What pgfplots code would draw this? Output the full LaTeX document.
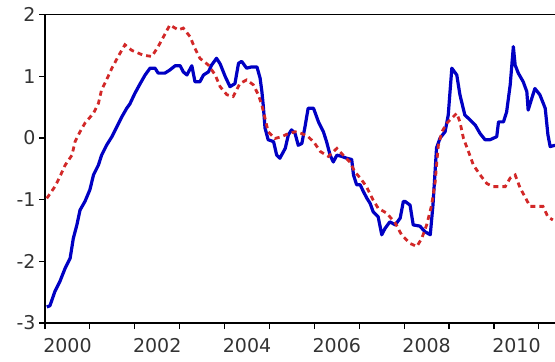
\documentclass[border=0pt]{standalone}
\usepackage{pgfplots}
\pgfplotsset{compat=1.18}
\usepackage{fontspec}
\setmainfont{DejaVu Sans}
\definecolor{seriesblue}{RGB}{0,0,195}
\definecolor{seriesred}{RGB}{210,40,40}
\begin{document}
\begin{tikzpicture}
\begin{axis}[
  scale only axis,
  width=511.9bp, height=308.5bp,
  xmin=2000, xmax=2011.4, ymin=-3, ymax=2,
  axis line style={line width=1.6bp, black},
  tick align=outside, tick pos=left,
  major tick length=6bp,
  tick style={black, line width=1.2bp},
  xtick={2000,...,2011},
  xticklabels={2000,,2002,,2004,,2006,,2008,,2010,},
  ytick={-3,-2,-1,0,1,2},
  yticklabels={-3,-2,-1,0,1,2},
  tick label style={font=\fontsize{19bp}{22bp}\selectfont, text=black!80},
  xticklabel style={xshift=22.45bp, yshift=-6bp},
]
% solid series
\addplot[seriesblue, line width=3.2bp, line join=round] coordinates {
(2000.04,-2.74) (2000.11,-2.72) (2000.22,-2.49) (2000.33,-2.33) (2000.45,-2.11)
(2000.56,-1.95) (2000.63,-1.63) (2000.71,-1.41) (2000.78,-1.17) (2000.89,-1.03)
(2001.00,-0.84) (2001.08,-0.60) (2001.19,-0.44) (2001.26,-0.28) (2001.37,-0.12)
(2001.49,0.02) (2001.60,0.18) (2001.71,0.34) (2001.82,0.48) (2001.89,0.55)
(2002.00,0.72) (2002.12,0.88) (2002.23,1.02) (2002.34,1.13) (2002.45,1.13)
(2002.52,1.05) (2002.67,1.05) (2002.78,1.10) (2002.90,1.17) (2003.01,1.17)
(2003.08,1.07) (2003.16,1.02) (2003.27,1.17) (2003.34,0.91) (2003.45,0.91)
(2003.53,1.02) (2003.64,1.07) (2003.71,1.18) (2003.82,1.29) (2003.90,1.20)
(2004.01,1.00) (2004.12,0.83) (2004.23,0.88) (2004.31,1.21) (2004.38,1.24)
(2004.49,1.13) (2004.60,1.15) (2004.72,1.15) (2004.79,0.97) (2004.83,0.75)
(2004.86,0.53) (2004.90,0.16) (2004.97,-0.03) (2005.09,-0.06) (2005.16,-0.28)
(2005.23,-0.33) (2005.35,-0.17) (2005.42,0.05) (2005.49,0.13) (2005.57,0.07)
(2005.64,-0.12) (2005.72,-0.09) (2005.79,0.18) (2005.86,0.48) (2005.98,0.48)
(2006.01,0.42) (2006.09,0.26) (2006.20,0.10) (2006.27,-0.06) (2006.35,-0.28)
(2006.42,-0.39) (2006.50,-0.28) (2006.61,-0.30) (2006.72,-0.33) (2006.83,-0.35)
(2006.87,-0.60) (2006.94,-0.76) (2007.02,-0.76) (2007.09,-0.87) (2007.17,-0.98)
(2007.24,-1.06) (2007.31,-1.20) (2007.42,-1.28) (2007.50,-1.57) (2007.57,-1.47)
(2007.68,-1.36) (2007.80,-1.41) (2007.91,-1.30) (2007.98,-1.03) (2008.02,-1.03)
(2008.13,-1.09) (2008.20,-1.41) (2008.35,-1.43) (2008.46,-1.52) (2008.58,-1.57)
(2008.64,-1.09) (2008.72,-0.16) (2008.80,0.00) (2008.91,0.10) (2008.98,0.37)
(2009.02,0.75) (2009.06,1.13) (2009.17,1.02) (2009.24,0.70) (2009.35,0.37)
(2009.47,0.29) (2009.58,0.21) (2009.69,0.07) (2009.80,-0.03) (2009.91,-0.03)
(2010.06,0.02) (2010.10,0.26) (2010.21,0.26) (2010.28,0.42) (2010.36,0.86)
(2010.43,1.48) (2010.47,1.18) (2010.54,1.05) (2010.65,0.91) (2010.73,0.75)
(2010.76,0.45) (2010.84,0.64) (2010.91,0.80) (2011.02,0.70) (2011.14,0.48)
(2011.20,0.05) (2011.25,-0.14) (2011.36,-0.12)
};
% dashed series
\addplot[seriesred, line width=2.8bp, dash pattern=on 5bp off 4bp] coordinates {
(2000.04,-0.98) (2000.22,-0.79) (2000.33,-0.63) (2000.45,-0.44) (2000.60,-0.28)
(2000.67,-0.06) (2000.78,0.10) (2000.89,0.24) (2001.08,0.40) (2001.19,0.56)
(2001.26,0.78) (2001.37,0.94) (2001.49,1.13) (2001.63,1.32) (2001.78,1.51)
(2001.93,1.42) (2002.19,1.34) (2002.38,1.32) (2002.52,1.48) (2002.64,1.64)
(2002.78,1.83) (2002.97,1.75) (2003.08,1.78) (2003.23,1.64) (2003.34,1.45)
(2003.45,1.29) (2003.64,1.18) (2003.79,1.02) (2003.90,0.83) (2004.05,0.70)
(2004.19,0.67) (2004.34,0.88) (2004.49,0.94) (2004.64,0.86) (2004.75,0.70)
(2004.83,0.53) (2004.90,0.32) (2004.97,0.10) (2005.12,-0.01) (2005.27,0.02)
(2005.42,0.07) (2005.57,0.10) (2005.72,0.07) (2005.86,0.02) (2006.00,-0.08)
(2006.13,-0.22) (2006.31,-0.30) (2006.50,-0.17) (2006.64,-0.28) (2006.79,-0.39)
(2006.90,-0.55) (2007.02,-0.65) (2007.16,-0.79) (2007.31,-1.01) (2007.42,-1.14)
(2007.61,-1.22) (2007.80,-1.38) (2007.94,-1.57) (2008.13,-1.71) (2008.28,-1.76)
(2008.39,-1.63) (2008.50,-1.41) (2008.61,-1.09) (2008.69,-0.71) (2008.72,-0.44)
(2008.76,-0.12) (2008.84,0.10) (2008.95,0.24) (2009.06,0.32) (2009.17,0.40)
(2009.24,0.26) (2009.32,-0.01) (2009.43,-0.22) (2009.54,-0.44) (2009.69,-0.60)
(2009.84,-0.74) (2009.98,-0.79) (2010.13,-0.79) (2010.25,-0.79) (2010.36,-0.65)
(2010.47,-0.60) (2010.58,-0.81) (2010.70,-0.97) (2010.80,-1.11) (2010.96,-1.11)
(2011.09,-1.11) (2011.20,-1.28) (2011.31,-1.33)
};
\end{axis}
\pgfresetboundingbox
\path ([shift={(-45bp,-39bp)}]current axis.south west)
  rectangle ([shift={(510bp,323bp)}]current axis.south west);
\end{tikzpicture}
\end{document}
